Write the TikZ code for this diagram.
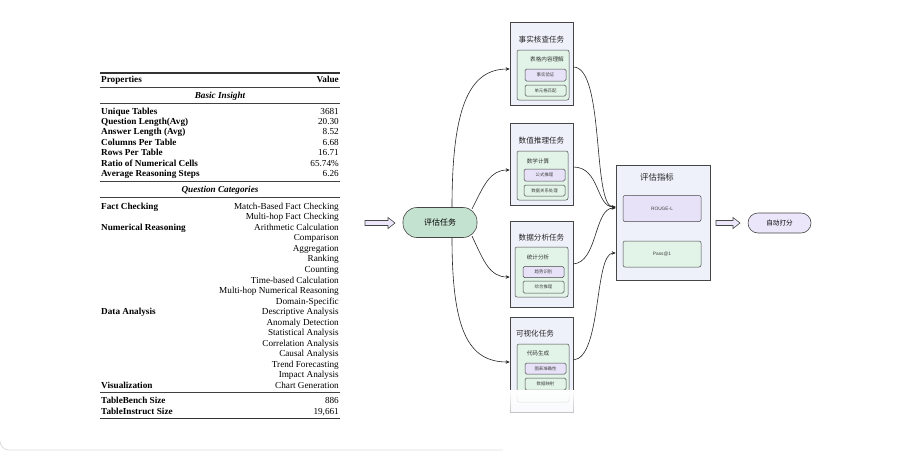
\documentclass[tikz,border=0pt]{standalone}
\usepackage{fontspec}
\setmainfont{Liberation Serif}
\newfontfamily\cjk{Noto Sans CJK SC}
\newfontfamily\dsans{Liberation Sans}
\usetikzlibrary{arrows.meta,fadings}
\definecolor{taskbg}{RGB}{238,240,250}
\definecolor{greenbg}{RGB}{226,244,232}
\definecolor{purplebg}{RGB}{232,226,248}
\definecolor{pillgreen}{RGB}{196,226,208}
\definecolor{pillpurple}{RGB}{236,230,250}
\definecolor{edge}{RGB}{70,70,70}
\begin{document}
\begin{tikzpicture}[x=1pt,y=-1pt,
  tl/.style={inner sep=0pt,anchor=base west,font=\fontsize{9.2}{10}\selectfont\bfseries},
  tr/.style={inner sep=0pt,anchor=base east,font=\fontsize{9.2}{10}\selectfont},
  th/.style={inner sep=0pt,anchor=base,font=\fontsize{9.2}{10}\selectfont\bfseries\itshape},
  taskbox/.style={draw=edge,fill=taskbg,line width=0.6pt},
  innerbox/.style={draw=edge,fill=greenbg,line width=0.5pt,rounded corners=2pt},
  subp/.style={draw=edge,fill=purplebg,line width=0.5pt,rounded corners=1.5pt},
  subg/.style={draw=edge,fill=greenbg,line width=0.5pt,rounded corners=1.5pt},
  ttitle/.style={inner sep=0pt,font=\cjk\fontsize{7.6}{9}\selectfont,text=black!85},
  ititle/.style={inner sep=0pt,font=\cjk\fontsize{5.6}{7}\selectfont,text=black!80},
  stext/.style={inner sep=0pt,font=\cjk\fontsize{4.4}{5}\selectfont,text=black!75},
  conn/.style={draw=black!85,line width=0.6pt,-{Stealth[length=4pt,width=3.5pt]}},
  hollow/.style={draw=edge,fill=pillpurple,line width=0.6pt},
  rule/.style={line width=0.5pt,draw=black!75},
  heavy/.style={line width=1.1pt,draw=black!80}
]
\useasboundingbox (0,0) rectangle (907,459);
\fill[white] (0,0) rectangle (907,459);
\draw[gray!25,line width=0.8pt] (0,441) to[out=-90,in=180] (9,450) -- (503,450);

% ---------------- table ----------------
\draw[heavy] (100,73) -- (340,73);
\node[tl] (hp) at (101,82) {Properties};
\node[tl,anchor=base east] (hv) at (339,82) {Value};
\draw[rule] (100,87) -- (340,87);
\node[th] (hbi) at (220,98) {Basic Insight};
\draw[rule] (100,103) -- (340,103);
\foreach \y/\a/\b [count=\i] in {114/Unique Tables/3681, 124/Question Length(Avg)/20.30, 134.5/Answer Length (Avg)/8.52, 145/Columns Per Table/6.68, 155.5/Rows Per Table/16.71, 166/Ratio of Numerical Cells/65.74\%, 176.5/Average Reasoning Steps/6.26}{
  \node[tl] (bl\i) at (101,\y) {\a};
  \node[tr] (br\i) at (339,\y) {\b};
}
\draw[rule,line width=0.8pt] (100,181) -- (340,181);
\node[th] (hqc) at (220,192) {Question Categories};
\draw[rule] (100,197) -- (340,197);
\node[tl] (cl1) at (101,209) {Fact Checking};
\node[tl] (cl2) at (101,230) {Numerical Reasoning};
\node[tl] (cl3) at (101,314) {Data Analysis};
\node[tl] (cl4) at (101,388) {Visualization};
\foreach \y/\b [count=\i] in {209/Match-Based Fact Checking, 219.5/Multi-hop Fact Checking, 230/Arithmetic Calculation, 240.5/Comparison, 251/Aggregation, 261.5/Ranking, 272/Counting, 283/Time-based Calculation, 293.5/Multi-hop Numerical Reasoning, 304/Domain-Specific, 314.5/Descriptive Analysis, 325/Anomaly Detection, 335.5/Statistical Analysis, 346/Correlation Analysis, 356.5/Causal Analysis, 367/Trend Forecasting, 377.5/Impact Analysis, 388/Chart Generation}{
  \node[tr] (cr\i) at (339,\y) {\b};
}
\draw[rule,line width=0.8pt] (100,392.5) -- (340,392.5);
\node[tl] (sl1) at (101,403) {TableBench Size};
\node[tr] (sr1) at (339,403) {886};
\node[tl] (sl2) at (101,414) {TableInstruct Size};
\node[tr] (sr2) at (339,414) {19,661};
\draw[heavy] (100,418.5) -- (340,418.5);

% ---------------- diagram ----------------
\draw[hollow] (365,220.5) -- (388,220.5) -- (388,217.5) -- (395,223) -- (388,228.5) -- (388,225.5) -- (365,225.5) -- cycle;
\node[draw=edge,fill=pillgreen,line width=0.6pt,rounded corners=14pt,minimum width=74pt,minimum height=30pt,inner sep=0pt,font=\cjk\fontsize{8}{9}\selectfont] (task) at (440,222.5) {评估任务};

% task box 1
\node[taskbox,minimum width=63pt,minimum height=83pt,inner sep=0pt] (b1) at (541.5,64) {};
\node[ttitle] (b1t) at (541.5,40) {事实核查任务};
\node[innerbox,minimum width=52pt,minimum height=50pt,inner sep=0pt] (b1i) at (543,75) {};
\node[ititle] (b1it) at (547,59.5) {表格内容理解};
\node[subp,minimum width=41pt,minimum height=12pt,inner sep=0pt] (b1a) at (545.5,75) {};
\node[stext] at (b1a) {事实验证};
\node[subg,minimum width=41pt,minimum height=11pt,inner sep=0pt] (b1b) at (545.5,90.5) {};
\node[stext] at (b1b) {单元格匹配};

% task box 2
\node[taskbox,minimum width=63pt,minimum height=82pt,inner sep=0pt] (b2) at (541.5,164) {};
\node[ttitle] (b2t) at (541.5,141) {数值推理任务};
\node[innerbox,minimum width=51pt,minimum height=49pt,inner sep=0pt] (b2i) at (542.5,175.5) {};
\node[ititle] (b2it) at (538,161) {数学计算};
\node[subp,minimum width=41pt,minimum height=12pt,inner sep=0pt] (b2a) at (544.5,175) {};
\node[stext] at (b2a) {公式推理};
\node[subg,minimum width=41pt,minimum height=11pt,inner sep=0pt] (b2b) at (544.5,190.5) {};
\node[stext] at (b2b) {数据关系处理};

% task box 3
\node[taskbox,minimum width=63pt,minimum height=86pt,inner sep=0pt] (b3) at (541.5,264) {};
\node[ttitle] (b3t) at (541.5,237.5) {数据分析任务};
\node[innerbox,minimum width=53pt,minimum height=50pt,inner sep=0pt] (b3i) at (541.5,272) {};
\node[ititle] (b3it) at (538,257) {统计分析};
\node[subp,minimum width=41pt,minimum height=11pt,inner sep=0pt] (b3a) at (543.5,272) {};
\node[stext] at (b3a) {趋势识别};
\node[subg,minimum width=41pt,minimum height=12pt,inner sep=0pt] (b3b) at (543.5,287) {};
\node[stext] at (b3b) {综合推理};

% task box 4
\node[taskbox,minimum width=63pt,minimum height=95pt,inner sep=0pt] (b4) at (541.5,364.5) {};
\node[ttitle] (b4t) at (535,333.5) {可视化任务};
\node[innerbox,minimum width=52pt,minimum height=58pt,inner sep=0pt] (b4i) at (543,373) {};
\node[ititle] (b4it) at (538,353) {代码生成};
\node[subp,minimum width=41pt,minimum height=11pt,inner sep=0pt] (b4a) at (545.5,368.5) {};
\node[stext] at (b4a) {图表准确性};
\node[subg,minimum width=41pt,minimum height=12pt,inner sep=0pt] (b4b) at (545.5,384) {};
\node[stext] at (b4b) {数据映射};

% evaluation box
\node[taskbox,minimum width=94pt,minimum height=115pt,inner sep=0pt] (ev) at (663,222.5) {};
\node[ttitle,font=\cjk\fontsize{8.4}{9}\selectfont] (evt) at (657,177) {评估指标};
\node[subp,rounded corners=2pt,minimum width=78pt,minimum height=26pt,inner sep=0pt] (rg) at (662,208.5) {};
\node[inner sep=0pt,font=\dsans\fontsize{4.8}{5}\selectfont,text=black!75] at (rg) {ROUGE-L};
\node[subg,rounded corners=2pt,minimum width=78pt,minimum height=26pt,inner sep=0pt] (pa) at (662,254) {};
\node[inner sep=0pt,font=\dsans\fontsize{4.8}{5}\selectfont,text=black!75] at (pa) {Pass@1};

\draw[hollow] (716,220.5) -- (733,220.5) -- (733,217.5) -- (740,223) -- (733,228.5) -- (733,225.5) -- (716,225.5) -- cycle;
\node[draw=edge,fill=pillpurple,line width=0.6pt,rounded corners=10pt,minimum width=63pt,minimum height=20pt,inner sep=0pt,font=\cjk\fontsize{6.6}{8}\selectfont] (auto) at (779.5,223) {自动打分};

% connectors
\coordinate (s1) at (452,207.5);
\coordinate (s2) at (472,209);
\coordinate (s3) at (472,236);
\coordinate (s4) at (452,237.5);
\draw[conn] (s1) .. controls (452,110) and (468,69) .. (b1.west |- 0,69);
\draw[conn] (s2) .. controls (484,185) and (490,170) .. (b2.west |- 0,170);
\draw[conn] (s3) .. controls (484,262) and (490,277) .. (b3.west |- 0,277);
\draw[conn] (s4) .. controls (452,330) and (468,362) .. (b4.west |- 0,362);

\draw[conn] (b1.east |- 0,67) .. controls (605,67) and (592,207) .. (ev.west |- 0,207);
\draw[conn] (b2.east |- 0,167) .. controls (600,167) and (596,207) .. (ev.west |- 0,207);
\draw[conn] (b3.east |- 0,264) .. controls (598,262) and (594,208) .. (ev.west |- 0,208);
\draw[conn] (b4.east |- 0,360) .. controls (602,358) and (594,253) .. (ev.west |- 0,253);

% fade at the bottom
\fill[white,path fading=south] (498,390) rectangle (590,459);
\end{tikzpicture}
\end{document}
